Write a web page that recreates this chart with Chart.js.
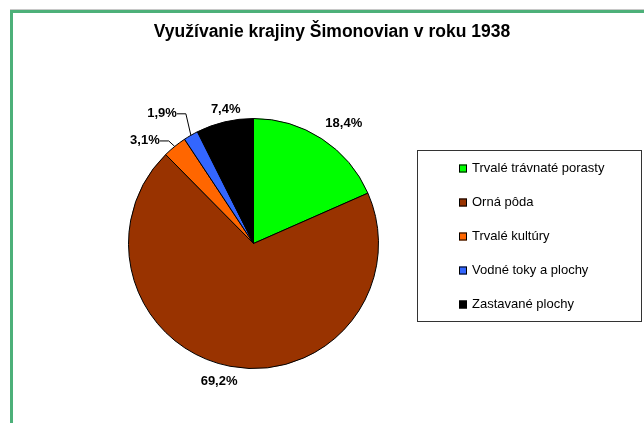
<!DOCTYPE html>
<html lang="sk">
<head>
<meta charset="UTF-8">
<title>Využívanie krajiny Šimonovian v roku 1938</title>
<style>
  html, body { margin: 0; padding: 0; background: #fff; }
  #wrap { position: relative; width: 644px; height: 423px; }
</style>
</head>
<body>
<div id="wrap"><canvas id="landUse"></canvas></div>
<script src="https://cdn.jsdelivr.net/npm/chart.js"></script>
<script>
// data
const chartTitle = 'Využívanie krajiny Šimonovian v roku 1938';
const categories = ['Trvalé trávnaté porasty', 'Orná pôda', 'Trvalé kultúry', 'Vodné toky a plochy', 'Zastavané plochy'];
const shares = [18.4, 69.2, 3.1, 1.9, 7.4];
const sliceColors = ['#00ff00', '#993300', '#ff6600', '#3366ff', '#000000'];

const FONT = 'Arial, "Liberation Sans", sans-serif';

// where each value label sits, relative to the outer middle of its slice
// leader: true -> label with a bent line (small slices)
const labelPlaces = [
  { dx: 22, dy: -15 },
  { dx: -11, dy: 15 },
  { dx: -6, dy: -6, leader: true },
  { dx: -5, dy: -22, leader: true },
  { dx: 1, dy: -12 }
];

const decorPlugin = {
  id: 'decor',
  beforeDraw(chart) {
    const ctx = chart.ctx;
    ctx.save();
    // green frame (top + left visible)
    ctx.fillStyle = '#c8c8c8';
    ctx.fillRect(10, 9, 640, 1);
    ctx.fillStyle = '#4db079';
    ctx.fillRect(10, 10, 640, 3);
    ctx.fillRect(10, 10, 3, 420);
    ctx.restore();
  },
  afterDraw(chart) {
    const ctx = chart.ctx;
    ctx.save();
    // title
    ctx.fillStyle = '#000';
    ctx.font = 'bold 17.5px ' + FONT;
    ctx.textAlign = 'center';
    ctx.textBaseline = 'middle';
    ctx.fillText(chartTitle, 332, 32);

    // value labels
    const arcs = chart.getDatasetMeta(0).data;
    ctx.font = 'bold 13px ' + FONT;
    arcs.forEach((arc, i) => {
      const mid = (arc.startAngle + arc.endAngle) / 2;
      const ex = arc.x + Math.cos(mid) * arc.outerRadius;
      const ey = arc.y + Math.sin(mid) * arc.outerRadius;
      const p = labelPlaces[i];
      const txt = shares[i].toFixed(1).replace('.', ',') + '%';
      const ax = ex + p.dx, ay = ey + p.dy;
      if (p.leader) {
        ctx.strokeStyle = '#000';
        ctx.lineWidth = 1;
        ctx.beginPath();
        ctx.moveTo(ax - 9, ay + 0.5);
        ctx.lineTo(ax, ay + 0.5);
        ctx.lineTo(ex, ey);
        ctx.stroke();
        ctx.textAlign = 'right';
        ctx.fillText(txt, ax - 9, ay);
      } else {
        ctx.textAlign = 'center';
        ctx.fillText(txt, ax, ay);
      }
    });

    // legend box
    const bx = 417.5, by = 150.5, bw = 224, bh = 171;
    ctx.strokeStyle = '#333';
    ctx.lineWidth = 1;
    ctx.strokeRect(bx, by, bw, bh);
    ctx.font = '13px ' + FONT;
    ctx.textAlign = 'left';
    categories.forEach((name, i) => {
      const cy = 168.5 + i * 34;
      ctx.fillStyle = sliceColors[i];
      ctx.fillRect(459, cy - 4, 8, 8);
      ctx.strokeStyle = '#000';
      ctx.strokeRect(459.5, cy - 3.5, 7, 7);
      ctx.fillStyle = '#000';
      ctx.fillText(name, 472, cy);
    });
    ctx.restore();
  }
};

new Chart(document.getElementById('landUse'), {
  type: 'pie',
  data: {
    labels: categories,
    datasets: [{
      data: shares,
      backgroundColor: sliceColors,
      borderColor: '#000',
      borderWidth: 1
    }]
  },
  options: {
    responsive: true,
    maintainAspectRatio: false,
    animation: false,
    layout: { padding: { left: 128, top: 118, right: 265, bottom: 54 } },
    plugins: {
      legend: { display: false },
      title: { display: false },
      tooltip: { enabled: false }
    }
  },
  plugins: [decorPlugin]
});
</script>
</body>
</html>
